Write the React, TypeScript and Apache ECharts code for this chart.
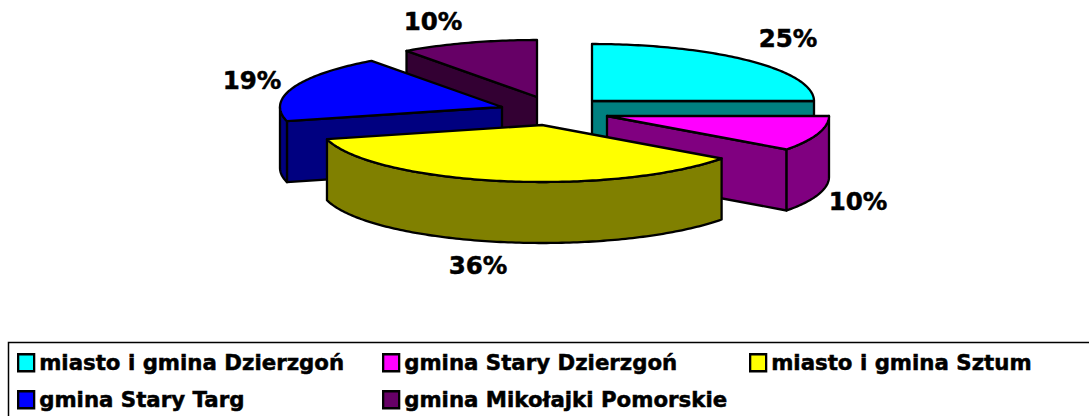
import React, { useEffect, useRef } from "react";
import * as echarts from "echarts";

const sliceNames = [
  "miasto i gmina Dzierzgoń",
  "gmina Stary Dzierzgoń",
  "miasto i gmina Sztum",
  "gmina Stary Targ",
  "gmina Mikołajki Pomorskie",
];
const sliceValues = [25, 10, 36, 19, 10];
const topColors = ["#00ffff", "#ff00ff", "#ffff00", "#0000ff", "#660066"];
const wallColors = ["#008080", "#800080", "#808000", "#000080", "#330033"];
const apexX = [592, 607, 542, 502, 537];
const apexY = [101, 116, 125, 107, 97];
const labelX = [788, 858, 478, 252, 433];
const labelY = [38, 201, 265, 80, 21];
const paintOrder = [4, 3, 0, 1, 2];
const legendLeft = [17, 382, 749, 17, 382];
const legendTop = [352, 352, 352, 389, 389];

const RX = 222;
const RY = 57;
const DEPTH = 61;
const STROKE = "#000000";
const FONT = '"DejaVu Sans", Verdana, sans-serif';

const total = sliceValues.reduce((a, b) => a + b, 0);

function renderSlice(index: number) {
  return (_params: any, api: any) => {
    const before = sliceValues.slice(0, index).reduce((a, b) => a + b, 0);
    const value = api.value(0);
    const a0 = (before / total) * 360;
    const a1 = ((before + value) / total) * 360;
    const cx = apexX[index];
    const cy = apexY[index];
    const pt = (deg: number, dy = 0): number[] => {
      const r = (deg * Math.PI) / 180;
      return [cx + RX * Math.sin(r), cy - RY * Math.cos(r) + dy];
    };
    const arc = (from: number, to: number, dy = 0): number[][] => {
      const out: number[][] = [];
      const n = Math.max(1, Math.ceil(to - from));
      for (let i = 0; i <= n; i++) out.push(pt(from + ((to - from) * i) / n, dy));
      return out;
    };
    const face = (points: number[][], fill: string) => ({
      type: "polygon",
      silent: true,
      shape: { points },
      style: { fill, stroke: STROKE, lineWidth: 2.3, lineJoin: "round" },
    });
    const radial = (deg: number) =>
      face([[cx, cy], pt(deg), pt(deg, DEPTH), [cx, cy + DEPTH]], wallColors[index]);
    const children: any[] = [];
    if (a0 > 180 && a0 < 360) children.push(radial(a0));
    if (a1 > 0 && a1 < 180) children.push(radial(a1));
    const f0 = Math.max(a0, 90);
    const f1 = Math.min(a1, 270);
    if (f1 > f0) {
      children.push(
        face([...arc(f0, f1), ...arc(f0, f1, DEPTH).reverse()], wallColors[index])
      );
    }
    children.push(face([[cx, cy], ...arc(a0, a1)], topColors[index]));
    children.push({
      type: "text",
      silent: true,
      style: {
        x: labelX[index],
        y: labelY[index],
        text: `${Math.round((value / total) * 100)}%`,
        fill: "#000000",
        stroke: "#000000",
        lineWidth: 0.5,
        font: `bold 24.5px ${FONT}`,
        align: "center",
        verticalAlign: "middle",
      },
    });
    return { type: "group", children };
  };
}

export default function App() {
  const ref = useRef<HTMLDivElement>(null);
  useEffect(() => {
    const chart = echarts.init(ref.current!, null, { renderer: "svg" });
    chart.setOption({
      animation: false,
      backgroundColor: "#ffffff",
      graphic: [
        {
          type: "rect",
          silent: true,
          z: 0,
          shape: { x: 8.5, y: 342.5, width: 1200, height: 200 },
          style: { fill: "#ffffff", stroke: "#000000", lineWidth: 1.5 },
        },
      ],
      legend: sliceNames.map((name, i) => ({
        data: [name],
        left: legendLeft[i],
        top: legendTop[i],
        padding: 0,
        itemWidth: 16,
        itemHeight: 17,
        itemGap: 6,
        icon: "rect",
        selectedMode: false,
        itemStyle: { borderColor: "#000000", borderWidth: 2.3 },
        textStyle: {
          color: "#000000",
          fontFamily: FONT,
          fontWeight: "bold",
          fontSize: 21.3,
          padding: 0,
          textBorderColor: "#000000",
          textBorderWidth: 0.5,
        },
      })),
      series: sliceNames.map((name, i) => ({
        type: "custom",
        name,
        coordinateSystem: "none",
        z: 2 + paintOrder.indexOf(i),
        itemStyle: { color: topColors[i] },
        data: [[sliceValues[i]]],
        renderItem: renderSlice(i),
      })),
    });
    return () => chart.dispose();
  }, []);
  return (
    <div
      ref={ref}
      style={{ position: "fixed", left: 0, top: 0, width: 1089, height: 416 }}
    />
  );
}
